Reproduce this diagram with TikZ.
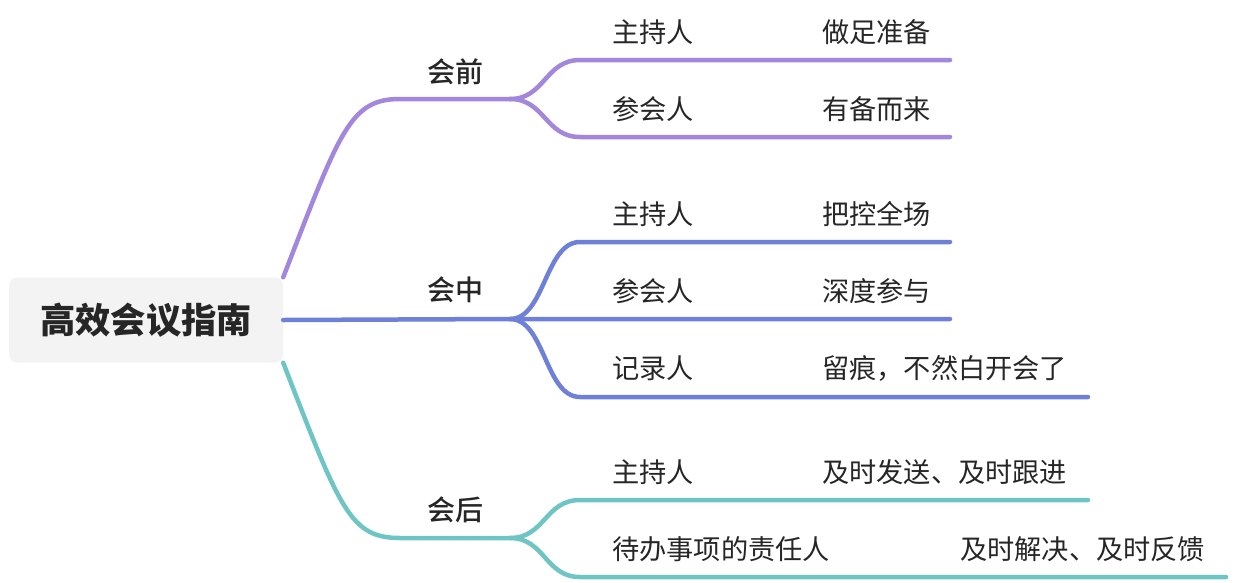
\documentclass[tikz,border=0pt]{standalone}
\usepackage{fontspec}
\newfontfamily\cjk{Noto Sans CJK SC}
\newfontfamily\cjkmed{Noto Sans CJK SC Medium}
\usepackage{tikz}
\usetikzlibrary{positioning}
\usepackage{xcolor}

\definecolor{precolor}{HTML}{A387DC}
\definecolor{midcolor}{HTML}{6E80D7}
\definecolor{postcolor}{HTML}{6EC5C4}
\definecolor{rootfill}{HTML}{F3F3F3}
\definecolor{inkcolor}{HTML}{262626}

\begin{document}
\begin{tikzpicture}[x=1pt, y=-1pt, font=\cjk, text=inkcolor,
    topic/.style={fill=rootfill, rounded corners=8pt, minimum width=274pt,
        minimum height=85pt, inner sep=0pt, font=\cjk\bfseries\fontsize{35.3}{40}\selectfont},
    stage/.style={anchor=west, inner sep=0pt, font=\cjkmed\fontsize{28}{32}\selectfont},
    leaf/.style={anchor=west, inner sep=0pt, font=\cjk\fontsize{27.2}{31}\selectfont},
    branch/.style={line width=4.5pt, line cap=round, draw=#1}]

    % Fix the page size to the reference
    \useasboundingbox (0,0) rectangle (1234,582);

    % Define parameters
    \def\split{510}  % x of the fork points
    \def\twig{580}   % x where the child lines turn flat
    \def\colone{612} % first text column
    \def\coltwo{822} % second text column

    % Root
    \node[topic] (root) at (146,320) {高效会议指南};

    % Fork and end points
    \coordinate (preknee) at (400,99);
    \coordinate (presplit) at (\split,99);
    \coordinate (pre1) at (\twig,60);   \coordinate (pre1end) at (950,60);
    \coordinate (pre2) at (\twig,137);  \coordinate (pre2end) at (950,137);

    \coordinate (midsplit) at (\split,319);
    \coordinate (mid1) at (\twig,242);  \coordinate (mid1end) at (950,242);
    \coordinate (mid2end) at (950,319);
    \coordinate (mid3) at (\twig,397);  \coordinate (mid3end) at (1088,397);

    \coordinate (postknee) at (400,538);
    \coordinate (postsplit) at (\split,538);
    \coordinate (post1) at (\twig,500); \coordinate (post1end) at (1088,500);
    \coordinate (post2) at (\twig,577); \coordinate (post2end) at (1226,577);

    % Before the meeting
    \draw[branch=precolor] (root.north east) .. controls +(57,-147) and +(-50,0) .. (preknee) -- (presplit);
    \draw[branch=precolor] (presplit) .. controls +(35,0) and +(-35,0) .. (pre1) -- (pre1end);
    \draw[branch=precolor] (presplit) .. controls +(35,0) and +(-35,0) .. (pre2) -- (pre2end);

    % During the meeting
    \draw[branch=midcolor] (root.east) -- (midsplit) -- (mid2end);
    \draw[branch=midcolor] (midsplit) .. controls +(35,0) and +(-35,0) .. (mid1) -- (mid1end);
    \draw[branch=midcolor] (midsplit) .. controls +(35,0) and +(-35,0) .. (mid3) -- (mid3end);

    % After the meeting
    \draw[branch=postcolor] (root.south east) .. controls +(57,147) and +(-50,0) .. (postknee) -- (postsplit);
    \draw[branch=postcolor] (postsplit) .. controls +(35,0) and +(-35,0) .. (post1) -- (post1end);
    \draw[branch=postcolor] (postsplit) .. controls +(35,0) and +(-35,0) .. (post2) -- (post2end);

    % Stage labels
    \node[stage] (pre) at (427,72) {会前};
    \node[stage] (mid) at (427,290) {会中};
    \node[stage] (post) at (427,510) {会后};

    % Roles and tasks
    \node[leaf] (prehost) at (\colone,32) {主持人};
    \node[leaf] (prehosttask) at (\coltwo,32) {做足准备};
    \node[leaf] (preguest) at (\colone,109) {参会人};
    \node[leaf] (preguesttask) at (\coltwo,109) {有备而来};

    \node[leaf] (midhost) at (\colone,214) {主持人};
    \node[leaf] (midhosttask) at (\coltwo,214) {把控全场};
    \node[leaf] (midguest) at (\colone,291) {参会人};
    \node[leaf] (midguesttask) at (\coltwo,291) {深度参与};
    \node[leaf] (midclerk) at (\colone,368) {记录人};
    \node[leaf] (midclerktask) at (\coltwo,368) {留痕，不然白开会了};

    \node[leaf] (posthost) at (\colone,472) {主持人};
    \node[leaf] (posthosttask) at (\coltwo,472) {及时发送、及时跟进};
    \node[leaf] (postowner) at (\colone,549) {待办事项的责任人};
    \node[leaf] (postownertask) at (960,549) {及时解决、及时反馈};

\end{tikzpicture}
\end{document}
